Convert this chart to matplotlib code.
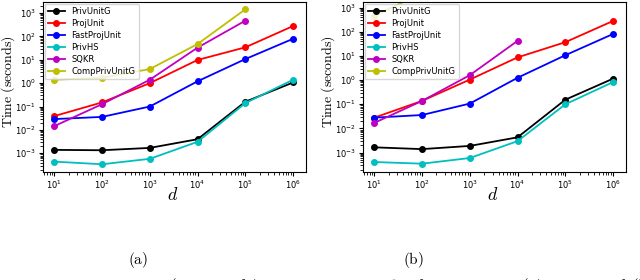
import numpy as np
import matplotlib
matplotlib.use("Agg")
import matplotlib.pyplot as plt

# dimensions
d = [1e1, 1e2, 1e3, 1e4, 1e5, 1e6]

# (a) runtimes in seconds
a_privunitg = [1.4e-3, 1.35e-3, 1.7e-3, 4.0e-3, 0.16, 1.07]
a_projunit = [0.039, 0.15, 1.0, 9.8, 34, 277]
a_fastproj = [0.029, 0.036, 0.10, 1.2, 10.7, 79]
a_privhs = [4.4e-4, 3.4e-4, 5.8e-4, 3.1e-3, 0.14, 1.4]
a_sqkr = [0.0145, 0.126, 1.4, 33, 470]
a_comp = [1.4, 1.7, 4.0, 47, 1440]

# (b) runtimes in seconds
b_privunitg = [1.66e-3, 1.4e-3, 1.9e-3, 4.3e-3, 0.155, 1.15]
b_projunit = [0.028, 0.138, 1.05, 8.7, 37, 280]
b_fastproj = [0.028, 0.036, 0.107, 1.25, 10.7, 81]
b_privhs = [4.1e-4, 3.5e-4, 6.0e-4, 3.0e-3, 0.10, 0.83]
b_sqkr = [0.017, 0.138, 1.6, 42]
b_comp = [450, 4000]

labels = ["PrivUnitG", "ProjUnit", "FastProjUnit", "PrivHS", "SQKR", "CompPrivUnitG"]
colors = ["k", "r", "b", "c", "m", "y"]

fig = plt.figure(figsize=(6.4, 2.8), dpi=100)
W, H = 640, 280

def make_ax(x0, x1, y0, y1):
    return fig.add_axes([x0 / W, 1 - y1 / H, (x1 - x0) / W, (y1 - y0) / H])

ax_a = make_ax(43, 306, 2, 172)
ax_b = make_ax(363, 626, 2, 172)

series_a = [a_privunitg, a_projunit, a_fastproj, a_privhs, a_sqkr, a_comp]
series_b = [b_privunitg, b_projunit, b_fastproj, b_privhs, b_sqkr, b_comp]

for ax, series in [(ax_a, series_a), (ax_b, series_b)]:
    for vals, lab, c in zip(series, labels, colors):
        ax.plot(d[:len(vals)], vals, marker="o", color=c, label=lab, lw=1.3, ms=4)
    ax.set_xscale("log")
    ax.set_yscale("log")
    ax.set_xlim(10 ** 0.764, 10 ** 6.27)
    ax.tick_params(labelsize=6, length=3, pad=2)
    ax.set_xlabel(r"$d$", fontsize=13, math_fontfamily="cm")
    ax.xaxis.set_label_coords(0.494, -0.08)
    ax.set_ylabel(r"$\mathrm{Time\ (seconds)}$", fontsize=10, math_fontfamily="cm")
    ax.yaxis.set_label_coords(-0.1, 0.53)
    ax.legend(loc="upper left", fontsize=6, handlelength=2.0, borderpad=0.4,
              labelspacing=0.36, borderaxespad=0.2)

ax_a.set_ylim(10 ** -3.8, 10 ** 3.47)
ax_b.set_ylim(10 ** -3.8, 10 ** 3.23)

fig.text(138 / W, 1 - 260 / H, r"$\mathrm{(a)}$", ha="center", va="center", fontsize=11, math_fontfamily="cm")
fig.text(413 / W, 1 - 260 / H, r"$\mathrm{(b)}$", ha="center", va="center", fontsize=11, math_fontfamily="cm")
fig.text(14 / W, 1 - 276 / H,
         r"$\mathbf{Figure\ 3:}\ \ \mathrm{Runtime\ (in\ seconds)\ as\ a\ function\ of\ the\ dimension\ for\ (a)}\ \varepsilon=10\ \mathrm{and\ (b)}\ \varepsilon=16$",
         ha="left", va="top", fontsize=12.5, math_fontfamily="cm")

fig.savefig("out.png", dpi=100)
